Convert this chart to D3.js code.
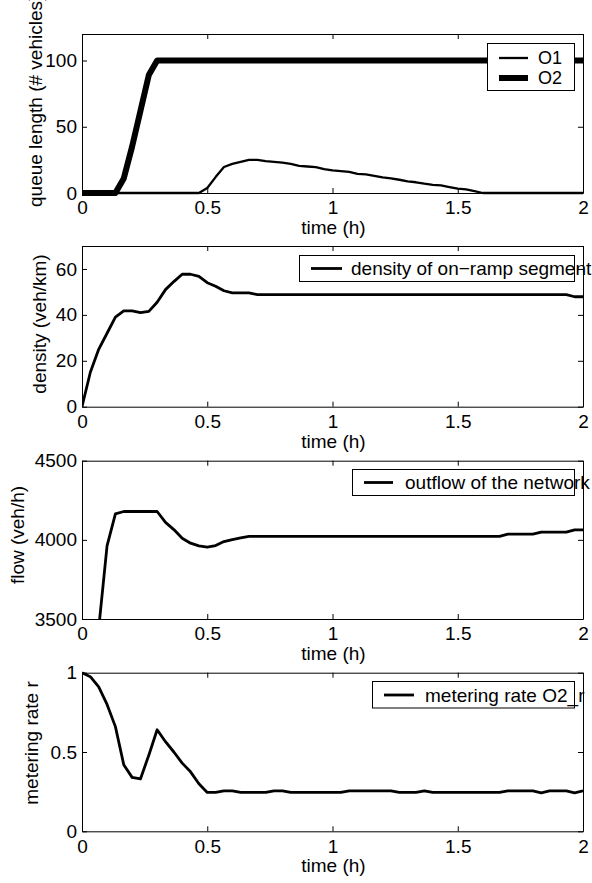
<!DOCTYPE html>
<html>
<head>
<meta charset="utf-8">
<script src="https://cdn.jsdelivr.net/npm/d3@7"></script>
<style>
  body { margin: 0; background: #fff; }
  svg { font-family: "Liberation Sans", Arial, Helvetica, sans-serif; }
  .tick text { font-size: 19px; fill: #000; }
  .domain, .tick line { stroke: #000; stroke-width: 1; }
</style>
</head>
<body>
<script>
// sample time of the simulation output, 2 min steps over 2 h
let dt = 1 / 30;
let time = d3.range(61).map(function (i) { return i * dt; });

// queue lengths (# vehicles)
let queueO1 = [0, 0, 0, 0, 0, 0, 0, 0, 0, 0, 0, 0, 0, 0, 0,
  3.8, 12, 19.6, 22, 23.5, 25, 25, 24, 23.5, 23, 22, 20.5, 20, 19.5, 18,
  17, 16.5, 16, 14.5, 14, 13, 11.8, 11, 10, 8.7, 8.1, 7, 6.2, 5.8, 4.5,
  3.3, 2.8, 1.5, 0, 0, 0, 0, 0, 0, 0, 0, 0, 0, 0, 0, 0];
let queueO2 = [0, 0, 0, 0, 0, 11, 35, 62, 89, 100,
  100, 100, 100, 100, 100, 100, 100, 100, 100, 100, 100, 100, 100, 100, 100, 100,
  100, 100, 100, 100, 100, 100, 100, 100, 100, 100, 100, 100, 100, 100, 100, 100,
  100, 100, 100, 100, 100, 100, 100, 100, 100, 100, 100, 100, 100, 100, 100, 100,
  100, 100, 100];

// density of on-ramp segment (veh/km)
let density = [0, 15, 25, 32, 39, 41.7, 41.7, 41, 41.5, 45.5, 51, 54.5, 57.7, 57.7,
  56.8, 54, 52.5, 50.5, 49.6, 49.6, 49.6,
  48.8, 48.8, 48.8, 48.8, 48.8, 48.8, 48.8, 48.8, 48.8, 48.8, 48.8, 48.8, 48.8,
  48.8, 48.8, 48.8, 48.8, 48.8, 48.8, 48.8, 48.8, 48.8, 48.8, 48.8, 48.8, 48.8,
  48.8, 48.8, 48.8, 48.8, 48.8, 48.8, 48.8, 48.8, 48.8, 48.8, 48.8, 48.8, 47.9, 47.9];

// outflow of the network (veh/h)
let outflow = [3000, 3200, 3440, 3962, 4164, 4179, 4179, 4179, 4179, 4179,
  4110, 4065, 4010, 3979, 3962, 3954, 3964, 3989, 4002, 4013,
  4022, 4022, 4022, 4022, 4022, 4022, 4022, 4022, 4022, 4022, 4022, 4022, 4022,
  4022, 4022, 4022, 4022, 4022, 4022, 4022, 4022, 4022, 4022, 4022, 4022, 4022,
  4022, 4022, 4022, 4022, 4022,
  4036, 4036, 4036, 4036, 4049, 4049, 4049, 4049, 4063, 4063];

// metering rate of on-ramp O2
let metering = [1.0, 0.975, 0.91, 0.8, 0.66, 0.42, 0.34, 0.33, 0.48, 0.64,
  0.565, 0.5, 0.43, 0.375, 0.3, 0.245, 0.245, 0.255, 0.255, 0.245,
  0.245, 0.245, 0.245, 0.255, 0.255, 0.245, 0.245, 0.245, 0.245, 0.245,
  0.245, 0.245, 0.255, 0.255, 0.255, 0.255, 0.255, 0.255, 0.245, 0.245,
  0.245, 0.255, 0.245, 0.245, 0.245, 0.245, 0.245, 0.245, 0.245, 0.245,
  0.245, 0.255, 0.255, 0.255, 0.255, 0.243, 0.255, 0.255, 0.255, 0.243, 0.255];

// ticks
let xTicks = [0, 0.5, 1, 1.5, 2];
let xTickLabels = ['0', '0.5', '1', '1.5', '2'];

let svgWidth = 592;
let svgHeight = 883;
let left = 82;
let right = 583;
let fontSize = '19px';

let svg = d3.select('body').append('svg')
  .attr('width', svgWidth).attr('height', svgHeight);

let x = d3.scaleLinear().domain([0, 2]).range([left, right]);

function panel(cfg) {
  let y = d3.scaleLinear().domain(cfg.yDomain).range([cfg.bottom, cfg.top]);
  let g = svg.append('g');

  let clipId = 'clip' + cfg.id;
  svg.append('clipPath').attr('id', clipId).append('rect')
    .attr('x', left).attr('y', cfg.top - cfg.pad)
    .attr('width', right - left).attr('height', cfg.bottom - cfg.top + 2 * cfg.pad);

  let lines = g.append('g').attr('clip-path', 'url(#' + clipId + ')');
  cfg.series.forEach(function (s) {
    let line = d3.line()
      .x(function (d, i) { return x(time[i]); })
      .y(function (d) { return y(d); });
    lines.append('path')
      .datum(s.values)
      .attr('fill', 'none')
      .attr('stroke', '#000')
      .attr('stroke-width', s.width)
      .attr('stroke-linejoin', 'round')
      .attr('d', line);
  });

  // axes, ticks pointing inward on all four sides
  g.append('g').attr('transform', 'translate(0,' + cfg.bottom + ')')
    .call(d3.axisBottom(x).tickValues(xTicks).tickSize(-5).tickSizeOuter(0).tickPadding(8)
      .tickFormat(function (d, i) { return xTickLabels[i]; }));
  g.append('g').attr('transform', 'translate(0,' + cfg.top + ')')
    .call(d3.axisTop(x).tickValues(xTicks).tickSize(-5).tickSizeOuter(0).tickFormat(''));
  g.append('g').attr('transform', 'translate(' + left + ',0)')
    .call(d3.axisLeft(y).tickValues(cfg.yTicks).tickSize(-5).tickSizeOuter(0).tickPadding(5)
      .tickFormat(function (d, i) { return cfg.yTickLabels[i]; }));
  g.append('g').attr('transform', 'translate(' + right + ',0)')
    .call(d3.axisRight(y).tickValues(cfg.yTicks).tickSize(-5).tickSizeOuter(0).tickFormat(''));
  g.selectAll('g').attr('font-family', null).attr('font-size', null);

  // axis labels
  g.append('text')
    .attr('x', (left + right) / 2 + 1).attr('y', cfg.bottom + 41)
    .attr('text-anchor', 'middle').attr('font-size', fontSize)
    .text('time (h)');
  g.append('text')
    .attr('transform', 'translate(' + cfg.yLabelX + ',' + cfg.yLabelY + ') rotate(-90)')
    .attr('text-anchor', cfg.yLabelAnchor).attr('font-size', fontSize)
    .text(cfg.yLabel);

  // legend
  let lg = g.append('g');
  lg.append('rect')
    .attr('x', cfg.legend.x0).attr('y', cfg.legend.y0)
    .attr('width', cfg.legend.x1 - cfg.legend.x0).attr('height', cfg.legend.y1 - cfg.legend.y0)
    .attr('fill', '#fff').attr('stroke', '#000').attr('stroke-width', 1);
  cfg.legend.items.forEach(function (it) {
    lg.append('line')
      .attr('x1', it.lx0).attr('x2', it.lx1).attr('y1', it.cy).attr('y2', it.cy)
      .attr('stroke', '#000').attr('stroke-width', it.width);
    lg.append('text')
      .attr('x', it.tx).attr('y', it.cy).attr('dy', '0.35em')
      .attr('font-size', cfg.legend.fontSize || fontSize)
      .text(it.label);
  });
}

panel({
  id: 1, top: 34, bottom: 193, pad: 6,
  yDomain: [0, 120], yTicks: [0, 50, 100], yTickLabels: ['0', '50', '100'],
  yLabel: 'queue length (# vehicles)', yLabelX: 42, yLabelY: 207, yLabelAnchor: 'start',
  series: [{ values: queueO1, width: 2.3 }, { values: queueO2, width: 6 }],
  legend: {
    x0: 487.5, x1: 574.5, y0: 43.5, y1: 90.5, fontSize: '18px',
    items: [
      { label: 'O1', cy: 58, lx0: 499, lx1: 528, tx: 538, width: 2.3 },
      { label: 'O2', cy: 78, lx0: 499, lx1: 528, tx: 538, width: 6 }
    ]
  }
});

panel({
  id: 2, top: 246, bottom: 406.7, pad: 3,
  yDomain: [0, 70], yTicks: [0, 20, 40, 60], yTickLabels: ['0', '20', '40', '60'],
  yLabel: 'density (veh/km)', yLabelX: 46, yLabelY: 324, yLabelAnchor: 'middle',
  series: [{ values: density, width: 2.8 }],
  legend: {
    x0: 299.5, x1: 574.5, y0: 255.5, y1: 281.5,
    items: [{ label: 'density of on\u2212ramp segment', cy: 268.5, lx0: 311, lx1: 342, tx: 351, width: 2.8 }]
  }
});

panel({
  id: 3, top: 460.7, bottom: 619, pad: 0,
  yDomain: [3500, 4500], yTicks: [3500, 4000, 4500], yTickLabels: ['3500', '4000', '4500'],
  yLabel: 'flow (veh/h)', yLabelX: 24, yLabelY: 535, yLabelAnchor: 'middle',
  series: [{ values: outflow, width: 2.8 }],
  legend: {
    x0: 352.5, x1: 574.5, y0: 469.5, y1: 495.5,
    items: [{ label: 'outflow of the network', cy: 482.5, lx0: 364, lx1: 393, tx: 405, width: 2.8 }]
  }
});

panel({
  id: 4, top: 672.7, bottom: 831.3, pad: 3,
  yDomain: [0, 1], yTicks: [0, 0.5, 1], yTickLabels: ['0', '0.5', '1'],
  yLabel: 'metering rate r', yLabelX: 38, yLabelY: 743, yLabelAnchor: 'middle',
  series: [{ values: metering, width: 2.8 }],
  legend: {
    x0: 372.5, x1: 574.5, y0: 681.5, y1: 708,
    items: [{ label: 'metering rate O2_r', cy: 695, lx0: 384, lx1: 414, tx: 425, width: 2.8 }]
  }
});
</script>
</body>
</html>
